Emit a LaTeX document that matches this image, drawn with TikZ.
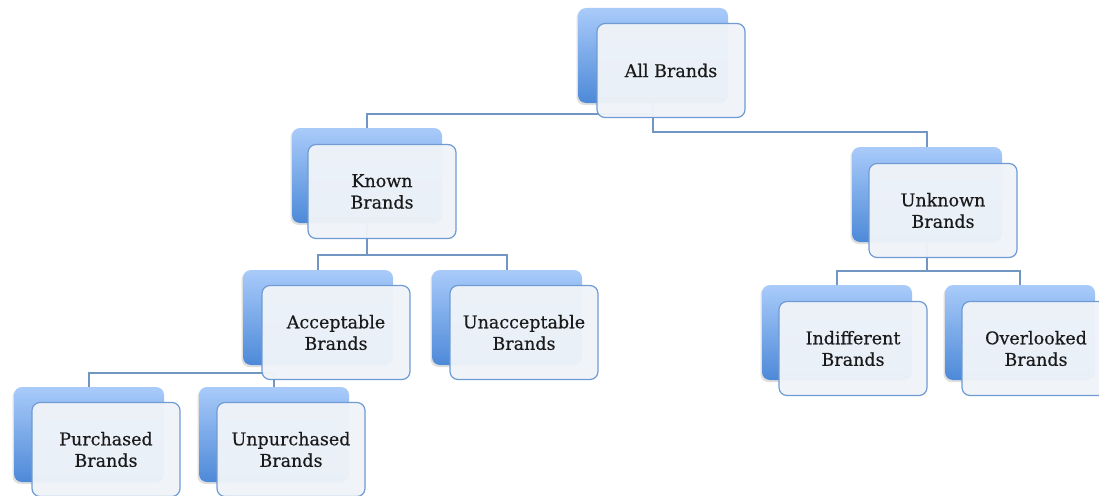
\documentclass[tikz,border=0pt]{standalone}
\usepackage{fontspec}
\setmainfont{DejaVu Serif}
\newfontfamily\labelfont{DejaVu Serif}[FakeBold=0.35]
\usetikzlibrary{shadows}
\definecolor{backtop}{HTML}{A9CBFA}
\definecolor{backbot}{HTML}{4D89D8}
\definecolor{edgec}{HTML}{6F9BD2}
\definecolor{frontfill}{HTML}{F0F4F9}
\definecolor{linkc}{HTML}{7196C4}
\definecolor{txt}{HTML}{1A1A1A}
\tikzset{
  backbox/.style={rectangle, rounded corners=8pt, minimum width=150pt,
    minimum height=95pt, draw=none, top color=backtop, bottom color=backbot,
    drop shadow={shadow xshift=-1.5pt, shadow yshift=-2pt, opacity=0.25}},
  frontbox/.style={rectangle, rounded corners=8pt, minimum width=148pt,
    minimum height=94pt, draw=edgec, line width=1.2pt, fill=frontfill,
    fill opacity=0.96, text opacity=1, align=center, text=txt,
    font=\labelfont\fontsize{17.5}{21.5}\selectfont},
  link/.style={draw=linkc, line width=1.3pt}
}
\begin{document}
\begin{tikzpicture}[x=1pt, y=-1pt]
\useasboundingbox (0,0) rectangle (1099,495);
\fill[white] (0,0) rectangle (1099,495);

% back (shaded) cards
\node[backbox] (bAll)   at (653,55.5)  {};
\node[backbox] (bKnown) at (367,175.5) {};
\node[backbox] (bUnk)   at (927,194.5) {};
\node[backbox] (bAcc)   at (318,317.5) {};
\node[backbox] (bUna)   at (507,317.5) {};
\node[backbox] (bInd)   at (837,332.5) {};
\node[backbox] (bOve)   at (1020,332.5) {};
\node[backbox] (bPur)   at (89,434.5)  {};
\node[backbox] (bUnp)   at (274,434.5) {};

% junction points of the tree connectors
\coordinate (jKnown) at (653,114);
\coordinate (jUnk)   at (653,132);
\coordinate (jK)     at (367,255);
\coordinate (jU)     at (927,271);
\coordinate (jA)     at (274,373);

% connectors
\draw[link] (bAll.south) -- (jUnk) -| (bUnk.north);
\draw[link] (jKnown) -| (bKnown.north);
\draw[link] (bKnown.south) -- (jK) -| (bAcc.north);
\draw[link] (jK) -| (bUna.north);
\draw[link] (bUnk.south) -- (jU) -| (bInd.north);
\draw[link] (jU) -| (bOve.north);
\draw[link] (jA) -| (bPur.north);
\draw[link] (jA) -- (bUnp.north);

% front cards with labels
\node[frontbox] (all)   at (671,70.5)  {All Brands};
\node[frontbox] (known) at (382,191.5) {Known\\Brands};
\node[frontbox] (unk)   at (943,210.5) {Unknown\\Brands};
\node[frontbox] (acc)   at (336,332.5) {Acceptable\\Brands};
\node[frontbox] (una)   at (524,332.5) {Unacceptable\\Brands};
\node[frontbox] (ind)   at (853,348.5) {Indifferent\\Brands};
\node[frontbox] (ove)   at (1036,348.5) {Overlooked\\Brands};
\node[frontbox] (pur)   at (106,449.5) {Purchased\\Brands};
\node[frontbox] (unp)   at (291,449.5) {Unpurchased\\Brands};
\end{tikzpicture}
\end{document}
